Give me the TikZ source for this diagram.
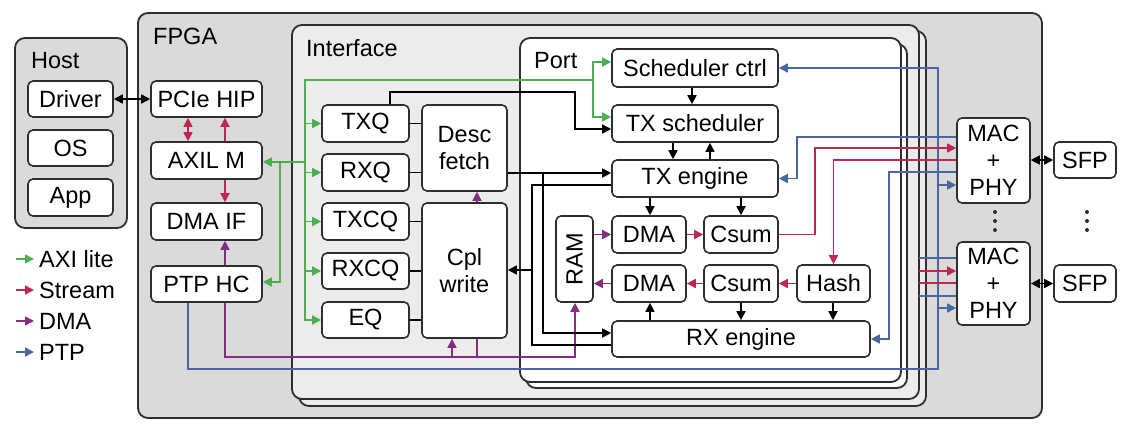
\documentclass[tikz,border=0pt]{standalone}
\usepackage{fontspec}
\setmainfont{Liberation Sans}
\usepackage{graphicx}
\usetikzlibrary{arrows.meta,calc}
\definecolor{cgreen}{HTML}{4CAF50}
\definecolor{cred}{HTML}{BE2850}
\definecolor{cpur}{HTML}{812D83}
\definecolor{cblue}{HTML}{4869A0}
\definecolor{cbd}{HTML}{2E2E2E}
\definecolor{cgray}{HTML}{DADADA}
\definecolor{cilight}{HTML}{ECECEC}
\begin{document}
\begin{tikzpicture}[x=1pt,y=-1pt,
  >={Triangle[length=9pt,width=9pt]},
  box/.style={draw=cbd, line width=1.6pt, rounded corners=5pt, fill=white, inner sep=0pt, align=center, font=\fontsize{23.5}{27}\selectfont},
  frame/.style={draw=cbd, line width=1.8pt, rounded corners=10pt},
  lbl/.style={anchor=base west, inner sep=0pt, font=\fontsize{23.5}{27}\selectfont},
  conn/.style={line width=1.6pt},
  blk/.style={conn, color=black},
  lgrn/.style={conn, color=cgreen},
  lred/.style={conn, color=cred},
  lpur/.style={conn, color=cpur},
  lblu/.style={conn, color=cblue},
]
\useasboundingbox (0,0) rectangle (1143,426);
\fill[white] (0,0) rectangle (1143,426);

% frames
\draw[frame, fill=cgray] (138,13) rectangle (1042,418);
\draw[frame, fill=cgray] (15,38) rectangle (127,228);
\draw[frame, fill=cilight] (299,31) rectangle (926,406);
\draw[frame, fill=cilight] (292,25) rectangle (919,399);
\draw[frame, fill=white] (526,44) rectangle (907,388);
\draw[frame, fill=white] (520,38) rectangle (901,382);

\node[lbl] (lhost) at (31,68) {Host};
\node[lbl] (lfpga) at (153,44) {FPGA};
\node[lbl] (lintf) at (306,56) {Interface};
\node[lbl] (lport) at (534,68) {Port};

% host boxes
\node[box, minimum width=85pt, minimum height=36pt] (drv) at (70.5,99) {Driver};
\node[box, minimum width=85pt, minimum height=36pt] (os) at (70.5,148) {OS};
\node[box, minimum width=85pt, minimum height=37pt] (app) at (70.5,197.5) {App};

% fpga left column
\node[box, minimum width=111pt, minimum height=36pt] (pcie) at (206.5,99) {PCIe HIP};
\node[box, minimum width=111pt, minimum height=37pt] (axil) at (206.5,160.5) {AXIL M};
\node[box, minimum width=111pt, minimum height=37pt] (dmaif) at (206.5,221.5) {DMA IF};
\node[box, minimum width=111pt, minimum height=36pt] (ptphc) at (206.5,284) {PTP HC};

% interface
\node[box, minimum width=87pt, minimum height=37pt] (txq) at (365.5,123.5) {TXQ};
\node[box, minimum width=87pt, minimum height=37pt] (rxq) at (365.5,172.5) {RXQ};
\node[box, minimum width=87pt, minimum height=37pt] (txcq) at (365.5,221.5) {TXCQ};
\node[box, minimum width=87pt, minimum height=36pt] (rxcq) at (365.5,271) {RXCQ};
\node[box, minimum width=87pt, minimum height=36pt] (eq) at (365.5,320) {EQ};
\node[box, minimum width=85pt, minimum height=86pt] (desc) at (464.5,148) {Desc\\fetch};
\node[box, minimum width=85pt, minimum height=135pt] (cpl) at (464.5,270.5) {Cpl\\write};

% port
\node[box, minimum width=166pt, minimum height=38pt] (sch) at (695,68) {Scheduler ctrl};
\node[box, minimum width=166pt, minimum height=37pt] (txs) at (695,123.5) {TX scheduler};
\node[box, minimum width=166pt, minimum height=37pt] (txe) at (695,178.5) {TX engine};
\node[box, minimum width=74pt, minimum height=37pt] (dma1) at (649,234.5) {DMA};
\node[box, minimum width=74pt, minimum height=37pt] (cs1) at (741,234.5) {Csum};
\node[box, minimum width=74pt, minimum height=37pt] (dma2) at (649,283.5) {DMA};
\node[box, minimum width=74pt, minimum height=37pt] (cs2) at (741,283.5) {Csum};
\node[box, minimum width=73pt, minimum height=37pt] (hash) at (833.5,283.5) {Hash};
\node[box, minimum width=37pt, minimum height=86pt] (ram) at (574.5,259) {\rotatebox{90}{RAM}};
\node[box, minimum width=258pt, minimum height=36pt] (rxe) at (741,339) {RX engine};

% mac / sfp
\node[box, minimum width=73pt, minimum height=85pt] (mac1) at (993.5,160.5) {MAC\\+\\PHY};
\node[box, minimum width=73pt, minimum height=83pt] (mac2) at (993.5,283.5) {MAC\\+\\PHY};
\node[box, minimum width=62pt, minimum height=36pt] (sfp1) at (1085,160) {SFP};
\node[box, minimum width=62pt, minimum height=37pt] (sfp2) at (1085,283.5) {SFP};

\foreach \yy in {212,221,230} {
  \fill[cbd] (995,\yy) circle (2pt);
  \fill[cbd] (1087,\yy) circle (2pt);
}

% legend
\node[lbl] (lega) at (39,267) {AXI lite};
\node[lbl] (legs) at (39,298) {Stream};
\node[lbl] (legd) at (39,329) {DMA};
\node[lbl] (legp) at (39,360) {PTP};
\draw[lgrn,->] (16,259) -- (34,259);
\draw[lred,->] (16,290) -- (34,290);
\draw[lpur,->] (16,321) -- (34,321);
\draw[lblu,->] (16,352) -- (34,352);

% host - pcie
\draw[blk,<->] (drv) -- (pcie);

% stream in fpga column
\draw[lred,<->] (188,0 |- pcie.south) -- (188,0 |- axil.north);
\draw[lred,->] (225,0 |- axil.north) -- (225,0 |- pcie.south);
\draw[lred,->] (225,0 |- axil.south) -- (225,0 |- dmaif.north);

% dma
\draw[lpur,->] (225,0 |- ptphc.north) -- (225,0 |- dmaif.south);
\draw[lpur,->] (225,0 |- ptphc.south) -- (225,357) -- (575,357) -- (575,0 |- ram.south);
\draw[lpur,->] (452,357) -- (452,0 |- cpl.south);
\draw[lpur] (477,357) -- (477,0 |- cpl.south);
\draw[lpur,->] (477,0 |- cpl.north) -- (477,0 |- desc.south);

% ptp
\draw[lblu,->] (188,0 |- ptphc.south) -- (188,369) -- (938,369) -- (938,0 |- sch.east) -- (sch.east);
\draw[lblu,->] (938,185) -- (mac1.west |- 0,185);
\draw[lblu,->] (938,308) -- (mac2.west |- 0,308);
\draw[lblu,->] (mac1.west |- 0,137) -- (797,137) -- (797,0 |- txe.east) -- (txe.east);
\draw[lblu,->] (mac1.west |- 0,172) -- (889,172) -- (889,0 |- rxe.east) -- (rxe.east);

% stream to mac
\draw[lred,->] (cs1.east) -- (815,0 |- cs1.east) -- (815,148) -- (mac1.west |- 0,148);
\draw[lred,->] (mac1.west |- 0,160) -- (hash.north |- 0,160) -- (hash.north);

% other ports to mac2
\coordinate (o1) at (919,258);
\coordinate (o2) at (919,271);
\coordinate (o3) at (919,283);
\coordinate (o4) at (919,296);
\draw[lblu] (o1) -- (mac2.west |- o1);
\draw[lred,->] (o2) -- (mac2.west |- o2);
\draw[lred] (o3) -- (mac2.west |- o3);
\draw[lblu] (o4) -- (mac2.west |- o4);

% sfp
\draw[blk,<->] (mac1.east |- sfp1.west) -- (sfp1.west);
\draw[blk,<->] (mac2.east |- sfp2.west) -- (sfp2.west);

% axi lite
\draw[lgrn,->] (305,162) -- (axil.east |- 0,162);
\draw[lgrn,->] (280,162) -- (280,282) -- (ptphc.east |- 0,282);
\draw[lgrn] (593,80) -- (305,80) -- (305,321);
\draw[lgrn,->] (593,80) -- (593,62) -- (sch.west |- 0,62);
\draw[lgrn,->] (593,80) -- (593,117) -- (txs.west |- 0,117);
\foreach \q in {txq,rxq,txcq,rxcq,eq} {
  \draw[lgrn,->] (305,0 |- \q.west) -- (\q.west);
}

% queue links
\draw[blk] (txq.east) -- (desc.west |- txq.east);
\draw[blk] (rxq.east) -- (desc.west |- rxq.east);
\draw[blk] (txcq.east) -- (cpl.west |- txcq.east);
\draw[blk] (rxcq.east) -- (cpl.west |- rxcq.east);
\draw[blk] (eq.east) -- (cpl.west |- eq.east);

% black datapath
\draw[blk,->] (390,0 |- txq.north) -- (390,92) -- (575,92) -- (575,129) -- (txs.west |- 0,129);
\draw[blk,->] (desc.east |- 0,173) -- (txe.west |- 0,173);
\draw[blk,->] (543,173) -- (543,333) -- (rxe.west |- 0,333);
\draw[blk] (txe.west |- 0,185) -- (532,185) -- (532,345) -- (rxe.west |- 0,345);
\draw[blk,->] (532,270) -- (cpl.east |- 0,270);
\draw[blk,->] (692,0 |- sch.south) -- (692,0 |- txs.north);
\draw[blk,->] (673,0 |- txs.south) -- (673,0 |- txe.north);
\draw[blk,->] (710,0 |- txe.north) -- (710,0 |- txs.south);
\draw[blk,->] (650,0 |- txe.south) -- (650,0 |- dma1.north);
\draw[blk,->] (741,0 |- txe.south) -- (741,0 |- cs1.north);
\draw[lpur,->] (ram.east |- dma1.west) -- (dma1.west);
\draw[lred,->] (dma1.east) -- (cs1.west);
\draw[lred,->] (hash.west) -- (cs2.east);
\draw[lred,->] (cs2.west) -- (dma2.east);
\draw[lpur,->] (dma2.west) -- (ram.east |- dma2.west);
\draw[blk,->] (650,0 |- rxe.north) -- (650,0 |- dma2.south);
\draw[blk,->] (741,0 |- cs2.south) -- (741,0 |- rxe.north);
\draw[blk,->] (833,0 |- hash.south) -- (833,0 |- rxe.north);
\end{tikzpicture}
\end{document}
